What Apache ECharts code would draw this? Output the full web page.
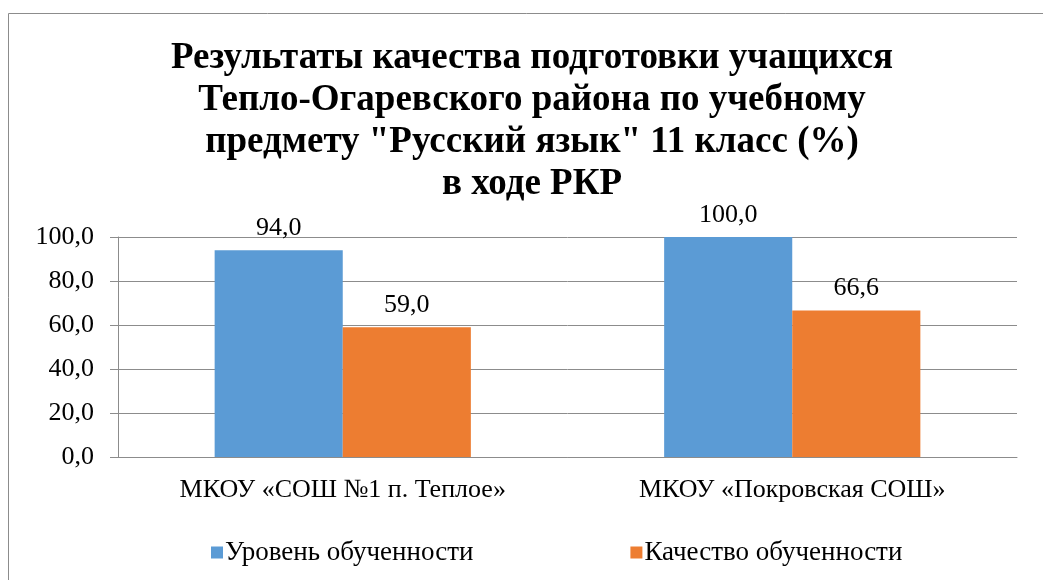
<!DOCTYPE html>
<html><head><meta charset="utf-8">
<script src="https://cdn.jsdelivr.net/npm/echarts@6/dist/echarts.min.js"></script>
<style>html,body{margin:0;padding:0;background:#fff}#c{width:1043px;height:580px}</style>
</head><body><div id="c"></div>
<script>
const categories = ['МКОУ «СОШ №1 п. Теплое»', 'МКОУ «Покровская СОШ»'];
const seriesNames = ['Уровень обученности', 'Качество обученности'];
const level = [94.0, 100.0];
const quality = [59.0, 66.6];
const titleText = 'Результаты качества подготовки учащихся\nТепло-Огаревского района по учебному\nпредмету "Русский язык" 11 класс (%)\nв ходе РКР';

const F = 'Liberation Serif';
const chart = echarts.init(document.getElementById('c'), null, {renderer: 'canvas'});
const fmt = v => v.toFixed(1).replace('.', ',');
chart.setOption({
  animation: false,
  graphic: [{type: 'rect', shape: {x: 8.5, y: 13.5, width: 1100, height: 700},
    style: {fill: 'none', stroke: '#8c8c8c', lineWidth: 1}, silent: true, z: -1}],
  title: {text: titleText, left: 532, top: 37, padding: 0, textAlign: 'center',
    textStyle: {fontFamily: F, fontSize: 37, fontWeight: 'bold', color: '#000', lineHeight: 42}},
  legend: {bottom: 14, left: 211, padding: 0, itemWidth: 12, itemHeight: 12, itemGap: 157, icon: 'rect',
    textStyle: {fontFamily: F, fontSize: 27, color: '#000', padding: [0, 0, 0, -3]},
    data: seriesNames},
  grid: {left: 118, right: 26, top: 237, bottom: 123, containLabel: false},
  xAxis: {type: 'category', data: categories,
    axisLine: {lineStyle: {color: '#8c8c8c'}}, axisTick: {show: true, lineStyle: {color: '#8c8c8c'}, length: 0},
    axisLabel: {fontFamily: F, fontSize: 26, color: '#000', margin: 20}},
  yAxis: {type: 'value', min: 0, max: 100, interval: 20,
    axisLine: {show: true, lineStyle: {color: '#8c8c8c'}},
    axisTick: {show: true, inside: false, length: 8, lineStyle: {color: '#8c8c8c'}},
    splitLine: {lineStyle: {color: '#8c8c8c'}},
    axisLabel: {fontFamily: F, fontSize: 26, color: '#000', margin: 24, formatter: v => fmt(v)}},
  series: [
    {name: seriesNames[0], type: 'bar', data: level, barWidth: '28.5%', barGap: '0%',
      itemStyle: {color: '#5B9BD5'},
      label: {show: true, position: 'top', distance: 9, fontFamily: F, fontSize: 26, color: '#000', formatter: p => fmt(p.value)}},
    {name: seriesNames[1], type: 'bar', data: quality, barWidth: '28.5%', barGap: '0%',
      itemStyle: {color: '#ED7D31'},
      label: {show: true, position: 'top', distance: 9, fontFamily: F, fontSize: 26, color: '#000', formatter: p => fmt(p.value)}}
  ]
});
</script></body></html>
